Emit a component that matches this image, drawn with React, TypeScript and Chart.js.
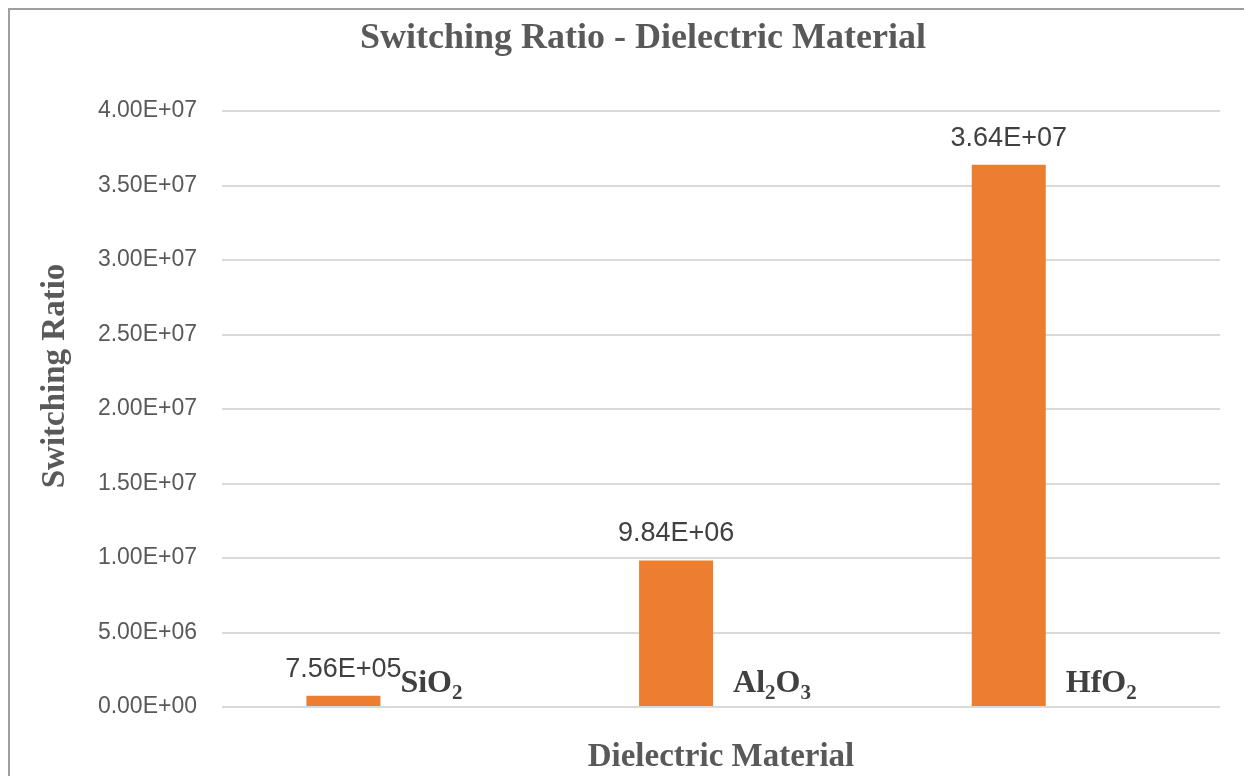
import React, { useEffect, useRef } from "react";
import { Chart, registerables } from "chart.js";

Chart.register(...registerables);

const categories = ["SiO2", "Al2O3", "HfO2"];
const switchingRatio = [756000, 9840000, 36400000];
const emptySeries: (number | null)[] = [null, null, null];
const yMin = 0;
const yMax = 40000000;
const yStep = 5000000;
const chartTitle = "Switching Ratio - Dielectric Material";
const yAxisTitle = "Switching Ratio";
const xAxisTitle = "Dielectric Material";

const SERIF = "'Liberation Serif', 'Times New Roman', serif";
const SANS = "'Liberation Sans', Arial, sans-serif";

function sci(v: number): string {
  const [m, e] = v.toExponential(2).split("e");
  const n = parseInt(e, 10);
  return m + "E" + (n < 0 ? "-" : "+") + String(Math.abs(n)).padStart(2, "0");
}

const textPlugin = {
  id: "textPlugin",
  afterDraw(chart: any) {
    const ctx = chart.ctx as CanvasRenderingContext2D;
    const area = chart.chartArea;
    ctx.save();
    // main title
    ctx.fillStyle = "#595959";
    ctx.font = `bold 36px ${SERIF}`;
    ctx.textAlign = "center";
    ctx.textBaseline = "alphabetic";
    ctx.fillText(chartTitle, chart.width / 2 + 2, 38);
    // x axis title
    ctx.font = `bold 33px ${SERIF}`;
    ctx.fillText(xAxisTitle, (area.left + area.right) / 2, 756);
    // y axis title
    ctx.save();
    ctx.translate(45, 366);
    ctx.rotate(-Math.PI / 2);
    ctx.textBaseline = "middle";
    ctx.font = `bold 33px ${SERIF}`;
    ctx.fillText(yAxisTitle, 0, 0);
    ctx.restore();

    // data labels and category labels
    const meta = chart.getDatasetMeta(0);
    meta.data.forEach((bar: any, i: number) => {
      const v = switchingRatio[i];
      ctx.fillStyle = "#404040";
      ctx.font = `27px ${SANS}`;
      ctx.textAlign = "center";
      ctx.textBaseline = "alphabetic";
      ctx.fillText(sci(v), bar.x, bar.y - 19);

      // category label with subscript digits
      let x = bar.x + bar.width / 2 + 20;
      const base = 682;
      ctx.textAlign = "left";
      const label = categories[i];
      const parts = label.match(/(\d+|\D+)/g) || [];
      parts.forEach((p) => {
        const isSub = /^\d+$/.test(p);
        ctx.font = isSub ? `bold 21px ${SERIF}` : `bold 32px ${SERIF}`;
        ctx.fillText(p, x, isSub ? base + 7 : base);
        x += ctx.measureText(p).width;
      });
    });
    ctx.restore();
  },
};

export default function App() {
  const ref = useRef<HTMLCanvasElement>(null);
  useEffect(() => {
    if (!ref.current) return;
    const chart = new Chart(ref.current, {
      type: "bar",
      data: {
        labels: categories,
        datasets: [
          {
            label: "Switching Ratio",
            data: switchingRatio,
            backgroundColor: "#ED7D31",
            borderWidth: 0,
            categoryPercentage: 0.54,
            barPercentage: 0.824,
          },
          {
            label: "",
            data: emptySeries,
            backgroundColor: "#A5A5A5",
            categoryPercentage: 0.54,
            barPercentage: 0.824,
          },
        ],
      },
      options: {
        responsive: false,
        animation: false,
        devicePixelRatio: 1,
        layout: { padding: { top: 101, bottom: 69, left: 0, right: 52 } },
        plugins: {
          legend: { display: false },
          title: { display: false },
          tooltip: { enabled: false },
        },
        scales: {
          x: {
            display: false,
          },
          y: {
            min: yMin,
            max: yMax,
            afterFit: (scale: any) => {
              scale.width = 212;
            },
            ticks: {
              stepSize: yStep,
              padding: 25,
              color: "#595959",
              font: { family: SANS, size: 23 },
              callback: (v: any) => sci(Number(v)),
            },
            grid: { color: "#d9d9d9", lineWidth: 2, drawTicks: false },
            border: { display: false },
          },
        },
      },
      plugins: [textPlugin],
    });
    return () => chart.destroy();
  }, []);
  return (
    <div
      style={{
        width: 1244,
        height: 768,
        overflow: "hidden",
        position: "relative",
        boxSizing: "border-box",
        borderTop: "2px solid #9e9e9e",
        borderLeft: "2px solid #9e9e9e",
        background: "#fff",
      }}
    >
      <canvas
        ref={ref}
        width={1262}
        height={766}
        style={{ position: "absolute", left: 0, top: 0, width: 1262, height: 766 }}
      />
    </div>
  );
}
